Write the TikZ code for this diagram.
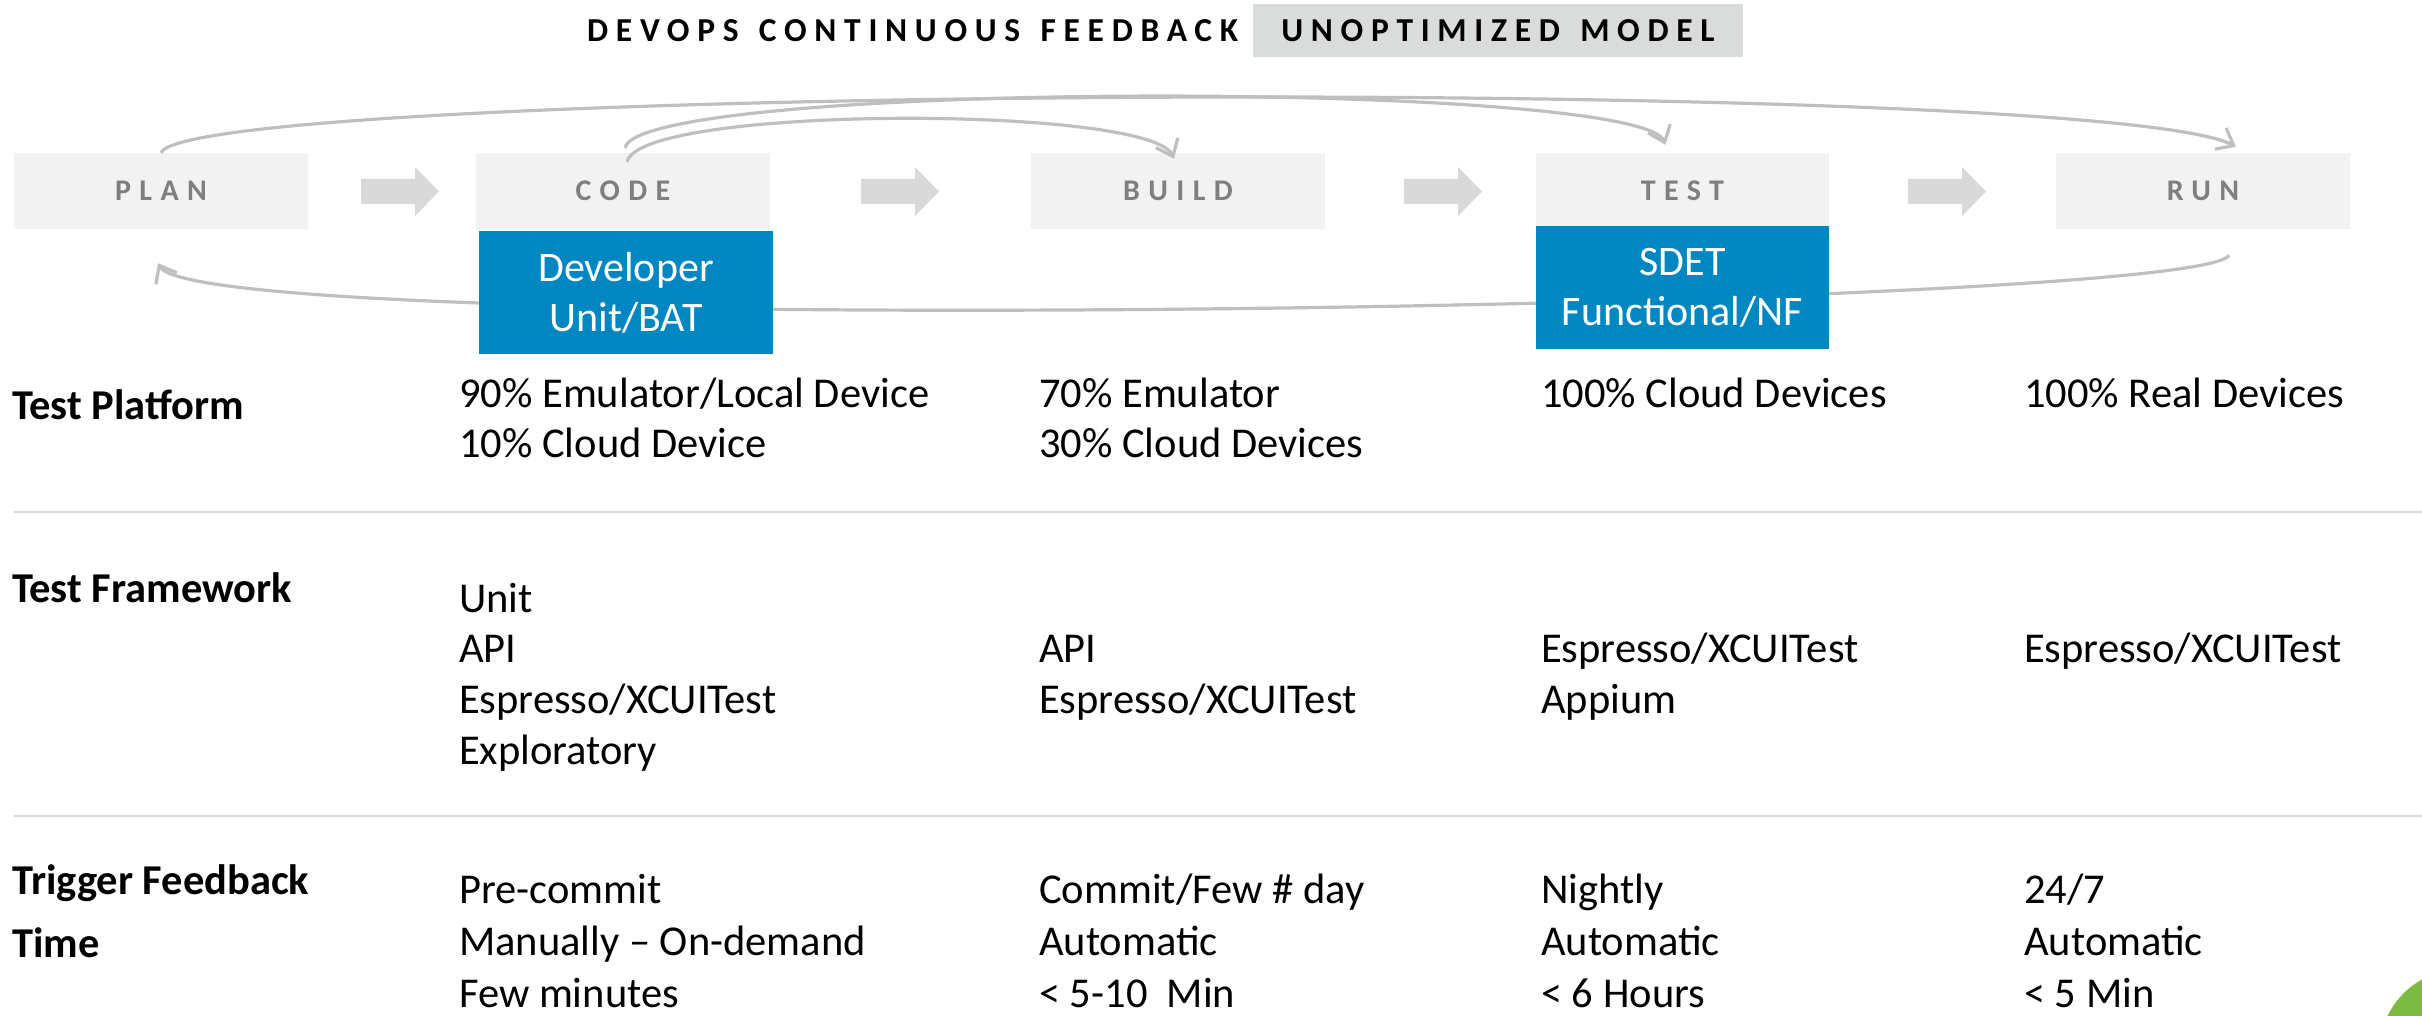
\documentclass[tikz,border=0pt]{standalone}
\usepackage{fontspec}
\setmainfont{Carlito}
\newfontfamily\spacedfont[LetterSpace=28]{Carlito}
\newfontfamily\titlespacedfont[LetterSpace=23]{Carlito}
\usetikzlibrary{arrows.meta,calc}
\definecolor{boxgray}{HTML}{F2F2F2}
\definecolor{arrowgray}{HTML}{D9D9D9}
\definecolor{labelgray}{HTML}{7F7F7F}
\definecolor{arcgray}{HTML}{BFBFBF}
\definecolor{titlegray}{HTML}{DADBDB}
\definecolor{bluefill}{RGB}{0,134,192}
\definecolor{sepgray}{HTML}{D9D9D9}
\definecolor{dotgreen}{RGB}{125,186,66}
\newcommand{\blockarrow}[1]{\fill[arrowgray] (#1,179) -- (#1+54,179) -- (#1+54,167) -- (#1+78,191.5) -- (#1+54,216) -- (#1+54,204) -- (#1,204) -- cycle;}
\begin{document}
\begin{tikzpicture}[x=1pt,y=-1pt,
  stage/.style={fill=boxgray, minimum width=294, minimum height=76, inner sep=0, text=labelgray, font=\spacedfont\bfseries\fontsize{30}{30}\selectfont},
  bluebox/.style={fill=bluefill, minimum width=294, minimum height=123, inner sep=0, text=white, align=center, font=\fontsize{42}{50}\selectfont},
  titletext/.style={inner sep=0, font=\titlespacedfont\bfseries\fontsize{33.5}{33.5}\selectfont},
  rowlabel/.style={anchor=base west, inner sep=0, font=\bfseries\fontsize{42.5}{51}\selectfont},
  cell/.style={anchor=base west, inner sep=0, font=\fontsize{42.5}{51}\selectfont},
  arcline/.style={draw=arcgray, line width=3.2, -{Straight Barb[length=15,width=24]}},
  sepline/.style={draw=sepgray, line width=2}
]
\useasboundingbox (0,0) rectangle (2422,1016);

% title
\node[titletext, anchor=base west] (title) at (587,42) {DEVOPS\hspace{5pt} CONTINUOUS\hspace{5pt} FEEDBACK};
\node[titletext, fill=titlegray, minimum width=490, minimum height=53] (model) at (1498,30.5) {UNOPTIMIZED\hspace{5pt} MODEL};

% stages
\node[stage] (plan)  at (161,191)   {PLAN};
\node[stage] (code)  at (623,191)   {CODE};
\node[stage] (build) at (1178,191)  {BUILD};
\node[stage, minimum width=293] (test)  at (1682.5,191) {TEST};
\node[stage] (run)   at (2203,191)  {RUN};

% block arrows
\blockarrow{361}
\blockarrow{861}
\blockarrow{1404}
\blockarrow{1908}

% feedback arcs
\draw[arcline] (plan.north) .. controls (190,85) and (2100,75) .. ($(run.north)+(33,-6)$);
\draw[arcline] ($(code.north)+(2,-5)$) .. controls (640,80) and (1640,80) .. ($(test.north)+(-17,-8)$);
\draw[arcline] ($(code.north)+(4,9)$) .. controls (640,105) and (1150,105) .. ($(build.north)+(-4,6)$);
\draw[arcline] ($(run.south)+(26,26)$) .. controls (2200,310) and (200,340) .. ($(plan.south)+(-3,34)$);

% role boxes
\node[bluebox] (dev)  at (626,292.5)   {Developer\\Unit/BAT};
\node[bluebox, minimum width=293] (sdet) at (1682.5,287.5) {SDET\\Functional/NF};

% row labels
\node[rowlabel] (lplat) at (12,419) {Test Platform};
\node[rowlabel] (lfw)   at (12,602) {Test Framework};
\node[rowlabel] (ltrig) at (12,894) {Trigger Feedback};
\node[rowlabel] (ltime) at (12,957) {Time};

% separators
\draw[sepline] (14,512) -- (2422,512);
\draw[sepline] (14,816) -- (2422,816);

% platform row
\foreach \t [count=\i from 0] in {90\% Emulator/Local Device,10\% Cloud Device}
  \node[cell] (pa\i) at (459,407+50*\i) {\t};
\foreach \t [count=\i from 0] in {70\% Emulator,30\% Cloud Devices}
  \node[cell] (pb\i) at (1039,407+50*\i) {\t};
\node[cell] (pc0) at (1541,407) {100\% Cloud Devices};
\node[cell] (pd0) at (2024,407) {100\% Real Devices};

% framework row
\foreach \t [count=\i from 0] in {Unit,API,Espresso/XCUITest,Exploratory}
  \node[cell] (fa\i) at (459,612+50.7*\i) {\t};
\foreach \t [count=\i from 0] in {API,Espresso/XCUITest}
  \node[cell] (fb\i) at (1039,662.7+50.7*\i) {\t};
\foreach \t [count=\i from 0] in {Espresso/XCUITest,Appium}
  \node[cell] (fc\i) at (1541,662.7+50.7*\i) {\t};
\node[cell] (fd0) at (2024,662.7) {Espresso/XCUITest};

% trigger row
\foreach \t [count=\i from 0] in {Pre-commit,Manually – On-demand,Few minutes}
  \node[cell] (ta\i) at (459,903+52*\i) {\t};
\foreach \t [count=\i from 0] in {Commit/Few \# day,Automatic,< 5-10\ \ Min}
  \node[cell] (tb\i) at (1039,903+52*\i) {\t};
\foreach \t [count=\i from 0] in {Nightly,Automatic,< 6 Hours}
  \node[cell] (tc\i) at (1541,903+52*\i) {\t};
\foreach \t [count=\i from 0] in {24/7,Automatic,< 5 Min}
  \node[cell] (td\i) at (2024,903+52*\i) {\t};

% corner dot
\begin{scope}
  \clip (0,0) rectangle (2422,1016);
  \fill[dotgreen] (2460,1050) circle[radius=80];
\end{scope}
\end{tikzpicture}
\end{document}
